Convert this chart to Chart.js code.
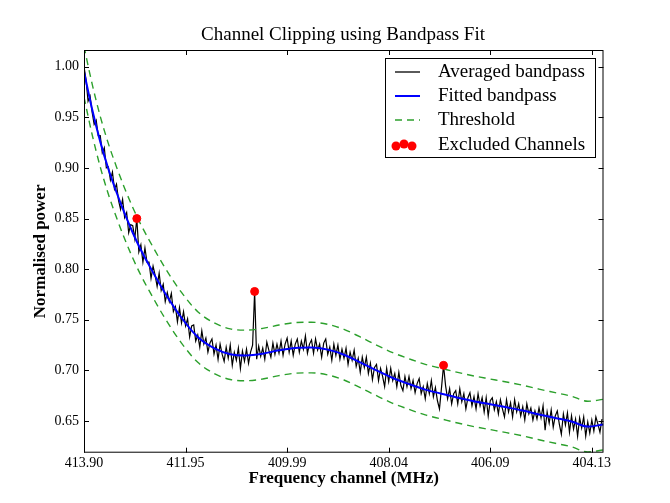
<!DOCTYPE html>
<html>
<head>
<meta charset="utf-8">
<script src="https://cdn.jsdelivr.net/npm/chart.js@4.4.1/dist/chart.umd.min.js"></script>
<style>
  html, body { margin: 0; padding: 0; background: #fff; }
  #wrap { width: 670px; height: 503px; }
</style>
</head>
<body>
<div id="wrap"><canvas id="bandpassCanvas" width="670" height="503"></canvas></div>
<script>
// averaged bandpass, one value every 4 channels (channel 0 .. 1020)
const chanStep = 4;
const avgPower = [
  1.000, 0.987, 0.966, 0.971, 0.955, 0.943, 0.947, 0.932, 0.932, 0.915, 0.920, 0.900, 0.901, 0.888, 0.896, 0.879,
  0.884, 0.868, 0.859, 0.869, 0.851, 0.856, 0.836, 0.844, 0.843, 0.830, 0.850, 0.817, 0.824, 0.807, 0.821, 0.807,
  0.807, 0.791, 0.803, 0.794, 0.783, 0.796, 0.779, 0.785, 0.768, 0.777, 0.768, 0.776, 0.758, 0.763, 0.748, 0.762,
  0.747, 0.758, 0.744, 0.751, 0.733, 0.744, 0.745, 0.729, 0.735, 0.723, 0.739, 0.726, 0.732, 0.718, 0.727, 0.731,
  0.716, 0.725, 0.711, 0.726, 0.716, 0.709, 0.723, 0.712, 0.725, 0.705, 0.718, 0.710, 0.722, 0.702, 0.719, 0.709,
  0.721, 0.707, 0.718, 0.725, 0.778, 0.711, 0.724, 0.714, 0.722, 0.711, 0.728, 0.720, 0.713, 0.727, 0.716, 0.726,
  0.717, 0.729, 0.715, 0.726, 0.732, 0.718, 0.729, 0.715, 0.726, 0.731, 0.718, 0.729, 0.721, 0.734, 0.717, 0.726,
  0.730, 0.717, 0.731, 0.720, 0.726, 0.713, 0.727, 0.731, 0.716, 0.723, 0.710, 0.726, 0.715, 0.725, 0.711, 0.721,
  0.712, 0.722, 0.706, 0.718, 0.710, 0.720, 0.704, 0.712, 0.698, 0.713, 0.703, 0.713, 0.697, 0.707, 0.691, 0.703,
  0.706, 0.690, 0.702, 0.694, 0.684, 0.702, 0.689, 0.702, 0.690, 0.697, 0.684, 0.698, 0.685, 0.680, 0.694, 0.684,
  0.694, 0.682, 0.690, 0.678, 0.687, 0.692, 0.677, 0.684, 0.672, 0.687, 0.677, 0.690, 0.674, 0.683, 0.670, 0.662,
  0.683, 0.705, 0.685, 0.672, 0.682, 0.667, 0.677, 0.680, 0.667, 0.682, 0.669, 0.677, 0.662, 0.673, 0.678, 0.665,
  0.674, 0.662, 0.677, 0.665, 0.673, 0.659, 0.673, 0.655, 0.670, 0.673, 0.661, 0.669, 0.657, 0.671, 0.662, 0.654,
  0.671, 0.659, 0.668, 0.654, 0.671, 0.659, 0.667, 0.655, 0.664, 0.651, 0.667, 0.657, 0.663, 0.651, 0.660, 0.652,
  0.663, 0.653, 0.665, 0.641, 0.659, 0.648, 0.661, 0.644, 0.655, 0.660, 0.647, 0.637, 0.657, 0.646, 0.658, 0.639,
  0.655, 0.642, 0.652, 0.635, 0.653, 0.643, 0.654, 0.635, 0.649, 0.638, 0.651, 0.640, 0.654, 0.647, 0.639, 0.652
];

// fitted bandpass and threshold, sampled at these channels
const fitChan = [0, 16, 32, 48, 64, 80, 96, 112, 128, 160, 192, 224, 256, 288, 320, 352, 384, 416, 448, 480,
  512, 544, 576, 608, 640, 672, 704, 736, 768, 800, 832, 864, 896, 928, 960, 992, 1023];
const fitPower = [0.995, 0.958, 0.926, 0.899, 0.876, 0.855, 0.836, 0.819, 0.804, 0.776, 0.752, 0.733, 0.722, 0.716,
  0.7148, 0.7165, 0.7198, 0.7222, 0.7226, 0.7205, 0.7155, 0.708, 0.700, 0.6925, 0.6865, 0.681, 0.677, 0.673,
  0.6695, 0.6665, 0.6635, 0.6603, 0.6565, 0.653, 0.6495, 0.6445, 0.6465];
const upperPower = [1.020, 0.983, 0.951, 0.924, 0.901, 0.880, 0.861, 0.844, 0.829, 0.801, 0.777, 0.758, 0.747, 0.741,
  0.7398, 0.7415, 0.7448, 0.7472, 0.7476, 0.7455, 0.7405, 0.733, 0.725, 0.7175, 0.7115, 0.706, 0.702, 0.698,
  0.6945, 0.6915, 0.6885, 0.6853, 0.6815, 0.678, 0.6745, 0.6695, 0.6715];
const lowerPower = [0.970, 0.933, 0.901, 0.874, 0.851, 0.830, 0.811, 0.794, 0.779, 0.751, 0.727, 0.708, 0.697, 0.691,
  0.6898, 0.6915, 0.6948, 0.6972, 0.6976, 0.6955, 0.6905, 0.683, 0.675, 0.6675, 0.6615, 0.656, 0.652, 0.648,
  0.6445, 0.6415, 0.6385, 0.6353, 0.6315, 0.628, 0.6245, 0.6195, 0.6215];

// excluded channels
const exclChan = [104, 336, 708];
const exclPower = [0.850, 0.778, 0.705];

// ticks
const xTickChans = [0, 200, 400, 600, 800, 1000];
const xTickLabels = ['413.90', '411.95', '409.99', '408.04', '406.09', '404.13'];
const yTickValues = [0.65, 0.70, 0.75, 0.80, 0.85, 0.90, 0.95, 1.00];
const yTickLabels = ['0.65', '0.70', '0.75', '0.80', '0.85', '0.90', '0.95', '1.00'];

const legendItems = ['Averaged bandpass', 'Fitted bandpass', 'Threshold', 'Excluded Channels'];
const serif = "'Liberation Serif', 'Times New Roman', serif";
const green = '#2ca02c';

function toXY(xs, ys) {
  return ys.map((y, i) => ({ x: xs[i], y: y }));
}

// matplotlib look: frame, inward ticks on all sides, title, legend box
const mplFrame = {
  id: 'mplFrame',
  afterDatasetsDraw(chart) {
    const { ctx, chartArea: a, scales } = chart;
    ctx.save();
    ctx.strokeStyle = '#000';
    ctx.lineWidth = 1;
    ctx.strokeRect(a.left + 0.5, a.top + 0.5, a.right - a.left - 1, a.bottom - a.top - 1);
    ctx.beginPath();
    xTickChans.forEach(v => {
      const px = Math.round(scales.x.getPixelForValue(v)) + 0.5;
      ctx.moveTo(px, a.bottom); ctx.lineTo(px, a.bottom - 5);
      ctx.moveTo(px, a.top); ctx.lineTo(px, a.top + 5);
    });
    yTickValues.forEach(v => {
      const py = Math.round(scales.y.getPixelForValue(v)) + 0.5;
      ctx.moveTo(a.left, py); ctx.lineTo(a.left + 5, py);
      ctx.moveTo(a.right, py); ctx.lineTo(a.right - 5, py);
    });
    ctx.stroke();

    // legend
    const lx = 385, ly = 58, lw = 210, lh = 99;
    ctx.fillStyle = '#fff';
    ctx.fillRect(lx, ly, lw, lh);
    ctx.strokeRect(lx + 0.5, ly + 0.5, lw, lh);
    const rows = [72, 96, 120, 145];
    ctx.font = '19px ' + serif;
    ctx.textBaseline = 'middle';
    ctx.textAlign = 'left';
    rows.forEach((ry, i) => {
      ctx.save();
      if (i < 3) {
        ctx.beginPath();
        ctx.lineWidth = i === 1 ? 2 : 1.3;
        ctx.strokeStyle = ['#000', '#0000ff', green][i];
        if (i === 2) ctx.setLineDash([7, 5]);
        ctx.moveTo(395, ry); ctx.lineTo(420, ry);
        ctx.stroke();
      } else {
        ctx.fillStyle = '#ff0000';
        [[396, ry + 1], [404, ry - 1], [412, ry + 1]].forEach(p => {
          ctx.beginPath(); ctx.arc(p[0], p[1], 4.5, 0, Math.PI * 2); ctx.fill();
        });
      }
      ctx.restore();
      ctx.fillStyle = '#000';
      ctx.fillText(legendItems[i], 438, ry);
    });
    ctx.restore();
  },
  afterDraw(chart) {
    const ctx = chart.ctx;
    ctx.save();
    ctx.fillStyle = '#000';
    ctx.font = '19px ' + serif;
    ctx.textAlign = 'center';
    ctx.textBaseline = 'middle';
    ctx.fillText('Channel Clipping using Bandpass Fit', 343, 35);
    ctx.restore();
  }
};

const ctx = document.getElementById('bandpassCanvas').getContext('2d');
window.myPlot = new Chart(ctx, {
  type: 'line',
  data: {
    datasets: [
      {
        label: 'Excluded Channels',
        data: toXY(exclChan, exclPower),
        showLine: false,
        pointRadius: 4,
        backgroundColor: '#ff0000',
        borderColor: '#ff0000',
        order: 0
      },
      {
        label: 'Threshold',
        data: toXY(fitChan, upperPower),
        borderColor: green,
        borderWidth: 1.4,
        borderDash: [7, 5],
        pointRadius: 0,
        cubicInterpolationMode: 'monotone',
        order: 1
      },
      {
        label: 'Threshold low',
        data: toXY(fitChan, lowerPower),
        borderColor: green,
        borderWidth: 1.4,
        borderDash: [7, 5],
        pointRadius: 0,
        cubicInterpolationMode: 'monotone',
        order: 1
      },
      {
        label: 'Fitted bandpass',
        data: toXY(fitChan, fitPower),
        borderColor: '#0000ff',
        borderWidth: 2,
        pointRadius: 0,
        cubicInterpolationMode: 'monotone',
        order: 2
      },
      {
        label: 'Averaged bandpass',
        data: avgPower.map((v, i) => ({ x: i * chanStep, y: v })),
        borderColor: '#000',
        borderWidth: 1.2,
        pointRadius: 0,
        tension: 0,
        order: 3
      }
    ]
  },
  options: {
    responsive: false,
    devicePixelRatio: 1,
    animation: false,
    layout: { padding: { top: 50, right: 66.5, bottom: 0, left: 0 } },
    plugins: {
      legend: { display: false },
      tooltip: { enabled: false }
    },
    scales: {
      x: {
        type: 'linear',
        min: 0,
        max: 1023,
        grid: { display: false, drawTicks: false },
        border: { display: false },
        afterBuildTicks: axis => { axis.ticks = xTickChans.map(v => ({ value: v })); },
        afterFit: scale => { scale.height = 50.3; },
        ticks: {
          autoSkip: false,
          maxRotation: 0,
          padding: 2,
          color: '#000',
          font: { family: serif, size: 14 },
          callback: v => xTickLabels[xTickChans.indexOf(v)]
        },
        title: {
          display: true,
          text: 'Frequency channel (MHz)',
          color: '#000',
          font: { family: serif, size: 17, weight: 'bold' },
          padding: { top: 0, bottom: 14 }
        }
      },
      y: {
        type: 'linear',
        min: 0.6187,
        max: 1.0165,
        grid: { display: false, drawTicks: false },
        border: { display: false },
        afterBuildTicks: axis => { axis.ticks = yTickValues.map(v => ({ value: v })); },
        afterFit: scale => { scale.width = 84; },
        ticks: {
          padding: 5,
          color: '#000',
          font: { family: serif, size: 14 },
          callback: v => yTickLabels[yTickValues.indexOf(v)]
        },
        title: {
          display: true,
          text: 'Normalised power',
          color: '#000',
          font: { family: serif, size: 17, weight: 'bold' },
          padding: { top: 30, bottom: 0 }
        }
      }
    }
  },
  plugins: [mplFrame]
});
</script>
</body>
</html>
